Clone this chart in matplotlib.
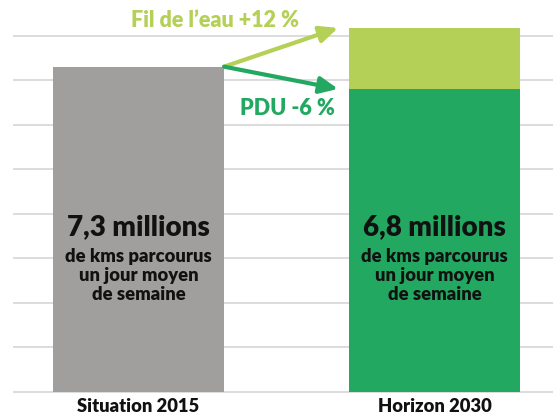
import matplotlib
matplotlib.use("Agg")
import matplotlib.pyplot as plt
from matplotlib.patches import FancyArrowPatch

plt.rcParams['font.family'] = ['Lato', 'DejaVu Sans']

categories = ["Situation 2015", "Horizon 2030"]
value_2015 = 7.3          # millions km
pdu_2030 = 6.8            # PDU scenario
fil_eau_2030 = 8.17       # Fil de l'eau scenario (+12 %)
big_labels = ["7,3 millions", "6,8 millions"]
sub_label = "de kms parcourus\nun jour moyen\nde semaine"
fil_label = "Fil de l\u2019eau +12 %"
pdu_label = "PDU -6 %"
grid_values = [0, 1, 2, 3, 4, 5, 6, 7, 8]

GRAY = "#A09F9D"
GREEN = "#22A861"
LIGHT = "#B5D056"
GRID = "#D9D9D9"
TXT = "#111111"
W = "heavy"

fig = plt.figure(figsize=(5.53, 4.17), dpi=100)
ax = fig.add_axes([0, 0, 1, 1])
ax.set_xlim(-0.468, 1.400)
ax.set_ylim(-0.573, 8.798)
ax.axis("off")

for g in grid_values:
    ax.hlines(g, -0.425, 1.400, color=GRID, lw=1.3, zorder=0)

x = [0, 1]
w = 0.578
ax.bar(x[0], value_2015, width=w, color=GRAY, zorder=2)
ax.bar(x[1], fil_eau_2030, width=w, color=LIGHT, zorder=2)
ax.bar(x[1], pdu_2030, width=w, color=GREEN, zorder=3)

for xi, big in zip(x, big_labels):
    ax.text(xi, 3.69, big, ha="center", va="center", fontsize=20,
            fontweight=W, color=TXT, zorder=5)
    ax.text(xi, 2.60, sub_label, ha="center", va="center", fontsize=13.2,
            fontweight=W, color=TXT, linespacing=1.14, zorder=5)

for xi, cat in zip(x, categories):
    ax.text(xi, -0.337, cat, ha="center", va="center", fontsize=13.2,
            fontweight=W, color=TXT)

start = (x[0] + w / 2, value_2015)
tip_x = 0.674
for target, col in [(fil_eau_2030, LIGHT), (pdu_2030, GREEN)]:
    arr = FancyArrowPatch(start, (tip_x, target),
                          arrowstyle="-|>,head_length=11,head_width=5",
                          mutation_scale=1, lw=3.0, color=col,
                          shrinkA=0, shrinkB=0, zorder=4)
    ax.add_patch(arr)

ax.text(0.257, 8.33, fil_label, ha="center", va="center", fontsize=15.5,
        fontweight=W, color=LIGHT)
ax.text(0.502, 6.36, pdu_label, ha="center", va="center", fontsize=15.5,
        fontweight=W, color=GREEN)

fig.savefig("out.png", dpi=100)
